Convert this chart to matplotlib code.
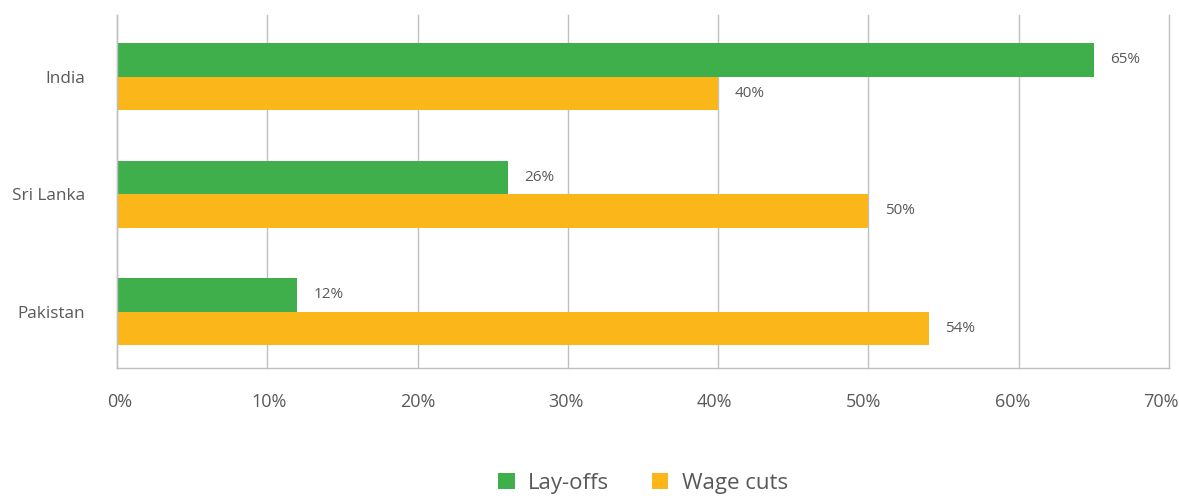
import matplotlib
matplotlib.use("Agg")
import matplotlib.pyplot as plt
import matplotlib.transforms as mtrans
import numpy as np

categories = ["India", "Sri Lanka", "Pakistan"]
layoffs = [65, 26, 12]
wage_cuts = [40, 50, 54]
series_names = ["Lay-offs", "Wage cuts"]
xticks = [0, 10, 20, 30, 40, 50, 60, 70]

green = "#3EAF4A"
yellow = "#FBB61A"
txt = "#595959"
plt.rcParams['font.family'] = ['Open Sans', 'DejaVu Sans']

W, H = 1179, 496
fig = plt.figure(figsize=(W / 100, H / 100), dpi=100)
ax = fig.add_axes([117 / W, 1 - 368 / H, (1169 - 117) / W, (368 - 15) / H])

y = np.arange(len(categories))
h = 0.285
ax.barh(y - h / 2, layoffs, height=h, color=green, label=series_names[0], zorder=3)
ax.barh(y + h / 2, wage_cuts, height=h, color=yellow, label=series_names[1], zorder=3)

for yi, v in zip(y - h / 2, layoffs):
    ax.text(v + 1.1, yi, f"{v}%", va="center", ha="left", fontsize=11, color=txt)
for yi, v in zip(y + h / 2, wage_cuts):
    ax.text(v + 1.1, yi, f"{v}%", va="center", ha="left", fontsize=11, color=txt)

ax.set_xlim(0, 70)
ax.set_ylim(2.48, -0.525)
ax.set_yticks(y)
ax.set_yticklabels(categories, fontsize=12.3, color=txt)
ax.set_xticks(xticks)
ax.set_xticklabels([f"{t}%" for t in xticks], fontsize=13, color=txt)
ax.tick_params(axis="both", length=0)
ax.tick_params(axis="y", pad=23)
ax.tick_params(axis="x", pad=18)
for i, lab in enumerate(ax.get_xticklabels()):
    dx = (3 - i * 11 / 7) / 100
    lab.set_transform(lab.get_transform() + mtrans.ScaledTranslation(dx, 0, fig.dpi_scale_trans))
ax.grid(axis="x", color="#BFBFBF", linewidth=1, zorder=0)
for gl in ax.get_xgridlines():
    gl.set_clip_on(False)
for s in ["top", "right"]:
    ax.spines[s].set_visible(False)
for s in ["left", "bottom"]:
    ax.spines[s].set_color("#BFBFBF")
    ax.spines[s].set_linewidth(1)
    ax.spines[s].set_zorder(4)

leg = fig.legend(loc="center", bbox_to_anchor=(643 / W, 1 - 483 / H), ncol=2, frameon=False,
                 fontsize=16, handlelength=0.75, handleheight=0.75, columnspacing=1.9,
                 handletextpad=0.6, labelcolor=txt)

fig.savefig("out.png", dpi=100)
